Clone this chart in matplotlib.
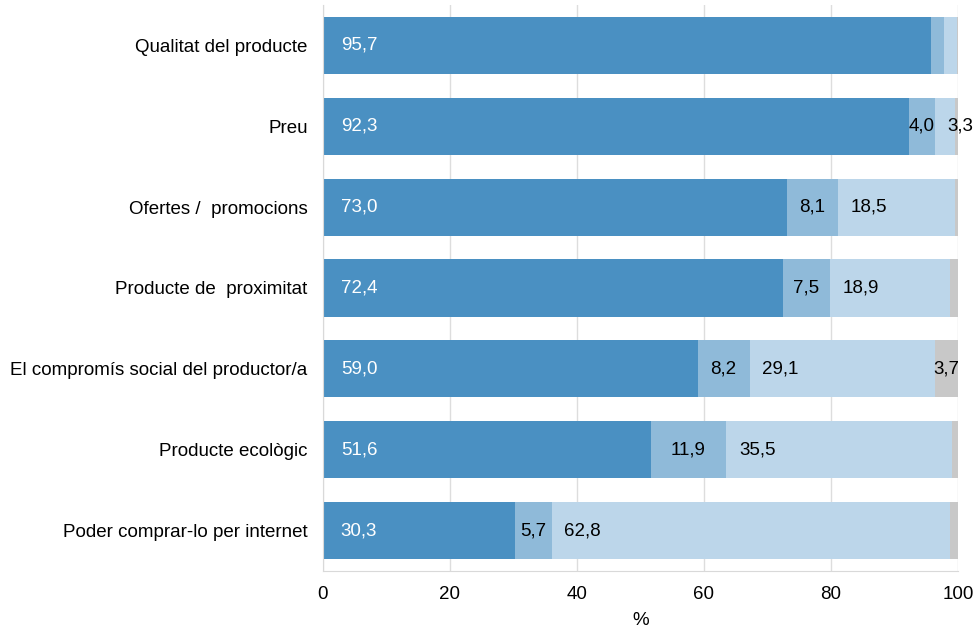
import matplotlib.pyplot as plt
import numpy as np

plt.rcParams['font.family'] = ['Liberation Sans', 'DejaVu Sans']

# Data, top to bottom
categories = ['Qualitat del producte', 'Preu', 'Ofertes /  promocions',
              'Producte de  proximitat', 'El compromís social del productor/a',
              'Producte ecològic', 'Poder comprar-lo per internet']
dark_vals = [95.7, 92.3, 73.0, 72.4, 59.0, 51.6, 30.3]
mid_vals = [2.1, 4.0, 8.1, 7.5, 8.2, 11.9, 5.7]
light_vals = [2.0, 3.3, 18.5, 18.9, 29.1, 35.5, 62.8]
gray_vals = [0.2, 0.4, 0.4, 1.2, 3.7, 1.0, 1.2]

colors = ['#4a90c2', '#8fbad9', '#bcd6ea', '#c8c8c8']
series = [dark_vals, mid_vals, light_vals, gray_vals]
fs = 13.5

fig = plt.figure(figsize=(9.76, 6.29), dpi=100)
ax = fig.add_axes([323 / 976, 1 - 571 / 629, (958 - 323) / 976, (571 - 5) / 629])

y = np.arange(len(categories))
left = np.zeros(len(categories))
for s_idx, (vals, col) in enumerate(zip(series, colors)):
    vals = np.array(vals)
    ax.barh(y, vals, left=left, height=0.705, color=col, zorder=2)
    for i, v in enumerate(vals):
        if v < 3:
            continue
        txt = f'{v:.1f}'.replace('.', ',')
        if s_idx == 0:
            ax.text(left[i] + 2.8, y[i], txt, ha='left', va='center',
                    color='white', fontsize=fs, zorder=3)
        elif s_idx == 2:
            ax.text(left[i] + 2.0, y[i], txt, ha='left', va='center',
                    color='black', fontsize=fs, zorder=3, clip_on=False)
        else:
            ax.text(left[i] + v / 2, y[i], txt, ha='center', va='center',
                    color='black', fontsize=fs, zorder=3, clip_on=False)
    left = left + vals

ax.set_xlim(0, 100)
ax.set_ylim(len(categories) - 0.5, -0.5)
ax.set_yticks(y)
ax.set_yticklabels(categories, fontsize=fs)
ax.set_xticks([0, 20, 40, 60, 80, 100])
ax.tick_params(axis='both', length=0, labelsize=fs)
ax.tick_params(axis='x', pad=11)
ax.tick_params(axis='y', pad=11)
ax.set_xlabel('%', fontsize=fs, labelpad=6)

ax.grid(axis='x', color='#dddddd', linewidth=1, zorder=0)
for side in ['top', 'right']:
    ax.spines[side].set_visible(False)
for side in ['left', 'bottom']:
    ax.spines[side].set_color('#d9d9d9')

fig.savefig('out.png', dpi=100)
